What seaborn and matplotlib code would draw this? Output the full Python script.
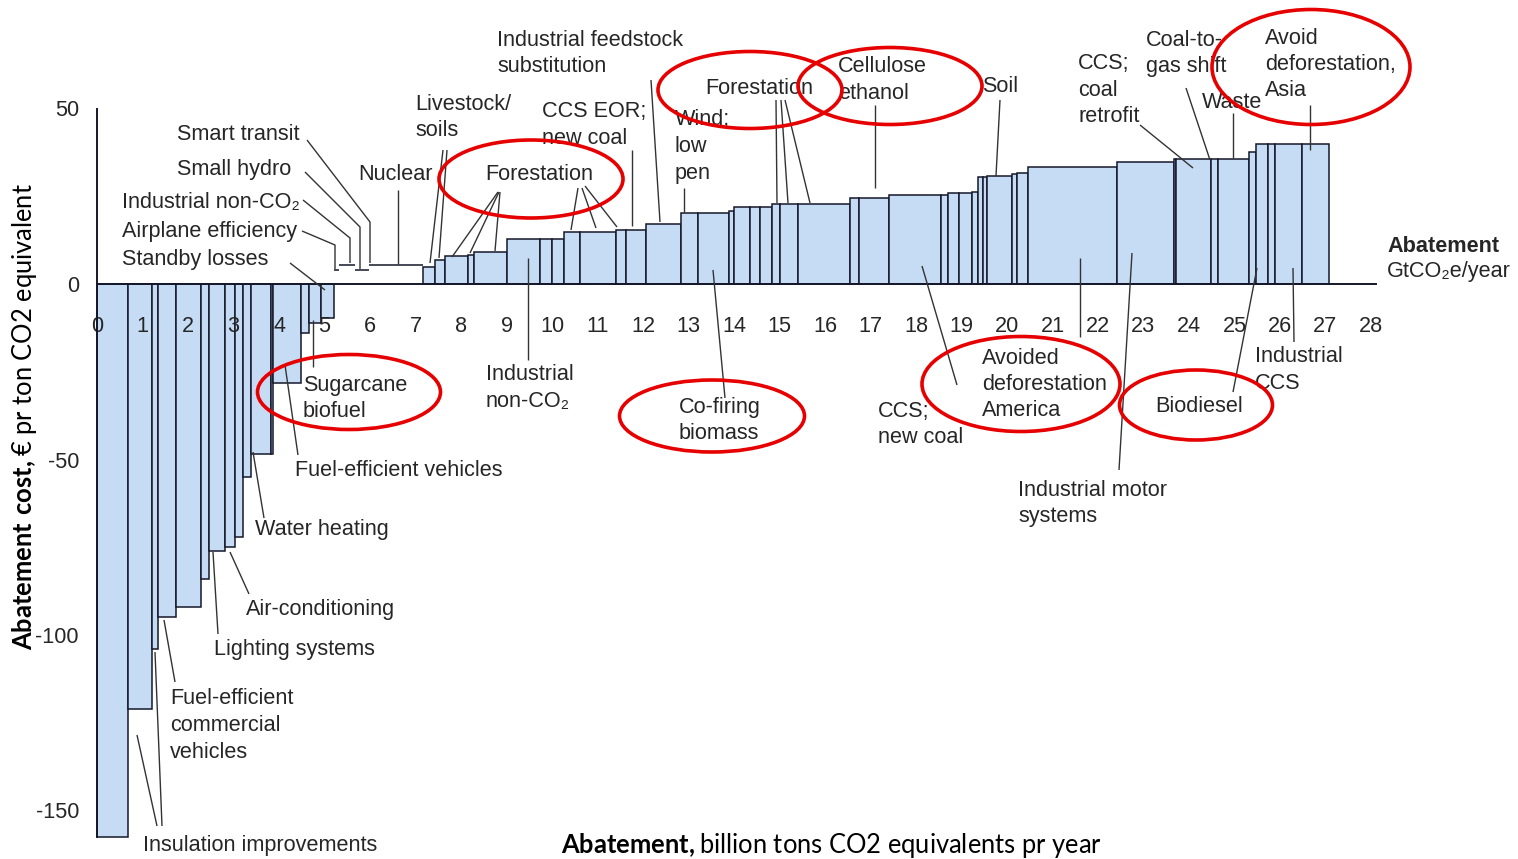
import matplotlib
matplotlib.use("Agg")
import matplotlib.pyplot as plt
import seaborn as sns
import numpy as np
from matplotlib.patches import Ellipse

# ---------------- data (abatement width in GtCO2e/yr, cost in EUR/tCO2e) ----------------
neg_widths = [0.68, 0.53, 0.14, 0.39, 0.54, 0.18, 0.35, 0.23, 0.17, 0.18, 0.44, 0.04,
              0.62, 0.17, 0.26, 0.29]
neg_costs = [-157.5, -121, -104, -95, -92, -84, -76, -75, -72, -55, -48.5, -48.5,
             -28.3, -13.9, -11, -9.6]
small_widths = [0.10, 0.36, 0.30, 0.09, 1.10]
small_costs = [3.9, 5.5, 3.9, 5.3, 5.3]
pos_widths = [0.27, 0.22, 0.50, 0.13, 0.73, 0.72, 0.26, 0.28, 0.34, 0.79, 0.22, 0.44,
              0.77, 0.38, 0.67, 0.11, 0.37, 0.22, 0.25, 0.18, 0.40, 1.15, 0.18, 0.66,
              1.14, 0.17, 0.23, 0.30, 0.13, 0.10, 0.10, 0.54, 0.10, 0.26, 1.94, 1.25,
              0.05, 0.78, 0.15, 0.67, 0.16, 0.27, 0.15, 0.59, 0.59]
pos_costs = [4.8, 6.7, 7.9, 8.3, 9.0, 12.8, 12.8, 12.8, 14.7, 14.7, 15.3, 15.3,
             17.1, 20.1, 20.1, 20.8, 21.8, 21.8, 21.8, 22.7, 22.7, 22.7, 24.4, 24.4,
             25.3, 25.3, 25.9, 25.9, 26.2, 30.5, 30.6, 30.7, 31.2, 31.7, 33.3, 34.8,
             35.5, 35.5, 35.5, 35.5, 37.6, 40.0, 40.0, 40.0, 40.0]
x_ticks = list(range(0, 29))
x_tick_labels = [str(v) for v in x_ticks]
y_ticks = [50, 0, -50, -100, -150]
y_tick_labels = ["50", "0", "-50", "-100", "-150"]

# ---------------- style ----------------
sns.set_theme(style="white")
plt.rcParams['font.family'] = ['Liberation Sans', 'DejaVu Sans']
plt.rcParams['mathtext.fontset'] = 'custom'
plt.rcParams['mathtext.rm'] = 'Lato'
plt.rcParams['mathtext.bf'] = 'Lato:bold'

FILL = '#c6dcf4'
EDGE = '#15182a'
TXT = '#262626'
RED = '#e60000'
FS = 15.6
TFS = 18.4

W, H = 1518, 859
fig = plt.figure(figsize=(W / 100, H / 100), dpi=100)
ax = fig.add_axes([0, 0, 1, 1])
X0, Y0, SX, SY = 97, 284, 45.5, 3.51


def px(x):
    return (x - X0) / SX


def py(y):
    return (Y0 - y) / SY


ax.set_xlim(px(0), px(W))
ax.set_ylim(py(H), py(0))

# ---------------- bars ----------------
all_w = neg_widths + small_widths + pos_widths
lefts = np.concatenate([[0.0], np.cumsum(all_w)[:-1]])
n1 = len(neg_widths)
n2 = n1 + len(small_widths)
ax.bar(lefts[:n1], neg_costs, width=neg_widths, align='edge', color=FILL,
       edgecolor=EDGE, linewidth=1.1, zorder=2)
ax.hlines(small_costs, lefts[n1:n2], lefts[n1:n2] + np.array(small_widths),
          color=EDGE, lw=1.1, zorder=2)
ax.bar(lefts[n2:], pos_costs, width=pos_widths, align='edge', color=FILL,
       edgecolor=EDGE, linewidth=1.1, zorder=2)

# ---------------- axes ----------------
for s in ['top', 'right']:
    ax.spines[s].set_visible(False)
ax.spines['left'].set_position(('data', 0))
ax.spines['bottom'].set_position(('data', 0))
ax.spines['left'].set_bounds(min(neg_costs), 50)
ax.spines['bottom'].set_bounds(0, 28.1)
for s in ['left', 'bottom']:
    ax.spines[s].set_color(EDGE)
    ax.spines[s].set_linewidth(1.4)
    ax.spines[s].set_zorder(3)
ax.set_axisbelow(False)
ax.set_xticks(x_ticks)
ax.set_xticklabels(x_tick_labels)
ax.set_yticks(y_ticks)
ax.set_yticklabels(y_tick_labels)
ax.tick_params(axis='x', direction='in', length=6, width=1, pad=23,
               labelsize=FS, colors=EDGE, labelcolor=TXT)
ax.tick_params(axis='y', direction='in', length=6, width=1, pad=13,
               labelsize=FS, colors=EDGE, labelcolor=TXT)
ax.grid(False)

# ---------------- annotation labels ----------------
labels = [
    (["Smart transit"], 177, 135),
    (["Small hydro"], 177, 169),
    (["Industrial non-CO\u2082"], 122, 203),
    (["Airplane efficiency"], 122, 231),
    (["Standby losses"], 122, 259),
    (["Nuclear"], 358, 175),
    (["Livestock/", "soils"], 415, 104),
    (["Forestation"], 485, 175),
    (["CCS EOR;", "new coal"], 542, 112),
    (["Industrial feedstock", "substitution"], 497, 40),
    (["Wind;", "low", "pen"], 675, 120),
    (["Forestation"], 705, 88),
    (["Cellulose", "ethanol"], 838, 67),
    (["Soil"], 982, 87),
    (["CCS;", "coal", "retrofit"], 1078, 64),
    (["Coal-to-", "gas shift"], 1146, 40),
    (["Waste"], 1202, 102),
    (["Avoid", "deforestation,", "Asia"], 1265, 38),
    (["Industrial", "non-CO\u2082"], 486, 375),
    (["Co-firing", "biomass"], 679, 407),
    (["CCS;", "new coal"], 878, 411),
    (["Avoided", "deforestation", "America"], 982, 358),
    (["Industrial motor", "systems"], 1018, 490),
    (["Biodiesel"], 1155, 407),
    (["Industrial", "CCS"], 1255, 357),
    (["Sugarcane", "biofuel"], 303, 385),
    (["Fuel-efficient vehicles"], 295, 471),
    (["Water heating"], 255, 529),
    (["Air-conditioning"], 246, 609),
    (["Lighting systems"], 214, 649),
    (["Fuel-efficient", "commercial", "vehicles"], 170, 699),
    (["Insulation improvements"], 143, 845),
]
LINE_DY = 26.5
for lines, x, y in labels:
    for i, t in enumerate(lines):
        ax.text(px(x), py(y + i * LINE_DY), t, ha='left', va='center',
                fontsize=FS, color=TXT, zorder=5, clip_on=False)

pointers = [
    [(307, 140), (370, 222), (370, 263)],
    [(305, 172), (360, 227), (360, 269)],
    [(303, 200), (350, 238), (350, 263)],
    [(302, 231), (335, 245), (335, 269)],
    [(290, 263), (325, 290)],
    [(398, 190), (398, 264)],
    [(443, 150), (430, 263)],
    [(447, 150), (439, 258)],
    [(498, 192), (452, 257)],
    [(499, 192), (470, 253)],
    [(500, 192), (495, 251)],
    [(578, 188), (571, 230)],
    [(582, 188), (596, 228)],
    [(585, 186), (617, 227)],
    [(632, 150), (632, 226)],
    [(651, 80), (660, 222)],
    [(684, 188), (684, 212)],
    [(776, 100), (777, 203)],
    [(781, 100), (788, 203)],
    [(785, 100), (810, 203)],
    [(875, 105), (875, 188)],
    [(1000, 100), (996, 176)],
    [(1140, 125), (1193, 168)],
    [(1186, 88), (1210, 160)],
    [(1233, 113), (1233, 158)],
    [(1310, 105), (1310, 150)],
    [(528, 360), (528, 258)],
    [(725, 398), (713, 270)],
    [(957, 385), (922, 266)],
    [(1080, 337), (1080, 258)],
    [(1119, 470), (1132, 253)],
    [(1233, 392), (1257, 268)],
    [(1294, 342), (1293, 268)],
    [(313, 367), (313, 320)],
    [(298, 455), (285, 365)],
    [(264, 518), (253, 452)],
    [(249, 594), (230, 552)],
    [(218, 634), (213, 552)],
    [(175, 682), (164, 620)],
    [(137, 735), (157, 826)],
    [(155, 652), (162, 826)],
]
for pts in pointers:
    xs = [px(p[0]) for p in pts]
    ys = [py(p[1]) for p in pts]
    ax.plot(xs, ys, color='#333333', lw=1.0, zorder=4, solid_capstyle='butt')

# ---------------- red highlight ellipses ----------------
ellipses = [
    (349, 392, 183, 75),
    (531, 179, 184, 78),
    (750, 90, 184, 77),
    (890, 86, 184, 77),
    (1311, 67, 198, 115),
    (712, 416, 185, 72),
    (1021, 384, 198, 95),
    (1196, 405, 153, 70),
]
for cx, cy, w, h in ellipses:
    ax.add_patch(Ellipse((px(cx), py(cy)), width=w / SX, height=h / SY,
                         fill=False, edgecolor=RED, lw=2.6, zorder=6, clip_on=False))

# ---------------- axis titles ----------------
ax.text(px(25), py(416), r"$\bf{Abatement\ cost,}$€ pr ton CO2 equivalent",
        rotation=90, ha='center', va='center', fontsize=TFS, family='Lato',
        color='black', zorder=5)
ax.text(px(831), py(846), r"$\bf{Abatement,}$billion tons CO2 equivalents pr year",
        ha='center', va='center', fontsize=TFS, family='Lato', color='black', zorder=5)
ax.text(px(1387), py(246), "Abatement", ha='left', va='center', fontsize=FS,
        fontweight='bold', color=TXT, zorder=5)
ax.text(px(1387), py(272), "GtCO\u2082e/year", ha='left', va='center', fontsize=FS,
        color=TXT, zorder=5)

fig.savefig("out.png", dpi=100)
